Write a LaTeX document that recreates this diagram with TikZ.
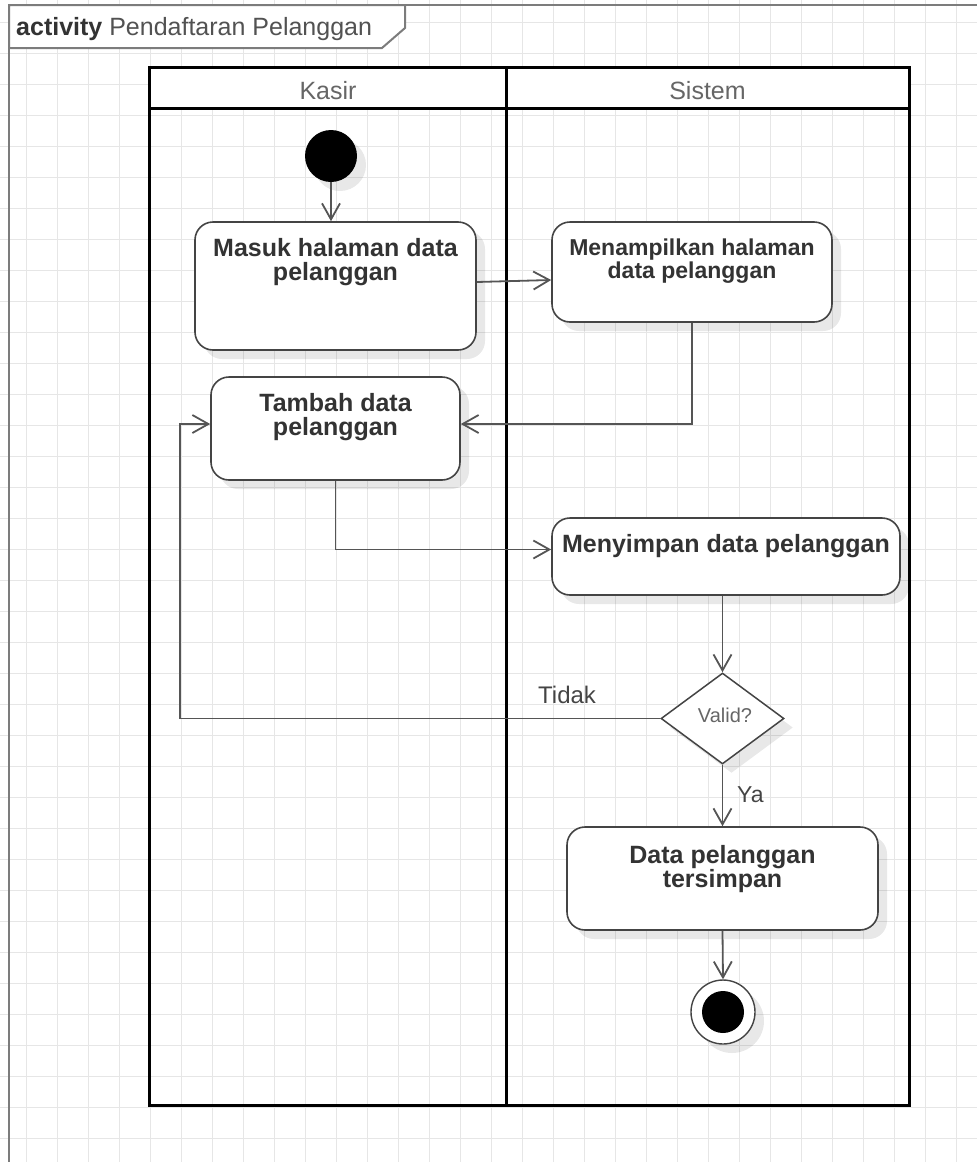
\documentclass[tikz,border=0pt]{standalone}
\usepackage{fontspec}
\setmainfont{Liberation Sans}
\usetikzlibrary{arrows.meta,shapes.geometric,shadows,calc}
\definecolor{gridc}{HTML}{E6E6E6}
\definecolor{framec}{HTML}{7C7C7C}
\definecolor{linec}{HTML}{444444}
\definecolor{flowc}{HTML}{555555}
\definecolor{txtc}{HTML}{333333}
\definecolor{softc}{HTML}{666666}

\begin{document}
\begin{tikzpicture}[x=1pt,y=-1pt,
  softshadow/.style={drop shadow={shadow xshift=9pt,shadow yshift=-9pt,fill=black,opacity=0.09}},
  act/.style={draw=linec,line width=1.6pt,fill=white,rounded corners=18pt,inner sep=0pt,softshadow},
  acttext/.style={font=\bfseries\fontsize{25}{24}\selectfont,text=txtc,align=center,anchor=north,inner sep=0pt},
  flow/.style={draw=flowc,line width=1.8pt,-{Straight Barb[length=16pt,width=18pt]}},
  lane/.style={draw=black,line width=3pt},
  flowlabel/.style={font=\fontsize{24}{24}\selectfont,text=linec,inner sep=0pt}
]
\useasboundingbox (0,0) rectangle (977,1162);
\clip (0,0) rectangle (977,1162);

% background grid
\foreach \gx in {0,...,30} {
  \draw[gridc,line width=1pt] (26+31*\gx,0) -- (26+31*\gx,1162);
}
\foreach \gy in {0,...,36} {
  \draw[gridc,line width=1pt] (0,22+31*\gy) -- (977,22+31*\gy);
}

% activity frame and its name tab
\draw[framec,line width=2pt] (9,1200) -- (9,5) -- (1000,5);
\draw[framec,line width=2pt,fill=white] (9,5) -- (405,5) -- (405,28) -- (382,48) -- (9,48) -- cycle;
\node[anchor=base west,inner sep=0pt,font=\fontsize{25}{25}\selectfont] (title) at (16,35)
  {\textcolor{txtc}{\bfseries activity} \textcolor{softc!80!black}{Pendaftaran Pelanggan}};

% swimlanes
\fill[white] (149,67) rectangle (909,108);
\draw[lane] (149,67) rectangle (909,1105);
\draw[lane] (149,108) -- (909,108);
\draw[lane] (506,67) -- (506,1105);
\node[anchor=base,inner sep=0pt,text=softc,font=\fontsize{25}{25}\selectfont] (kasir) at (328,99) {Kasir};
\node[anchor=base,inner sep=0pt,text=softc,font=\fontsize{25}{25}\selectfont] (sistem) at (707.5,99) {Sistem};

% initial node
\node[circle,fill=black,minimum size=52pt,inner sep=0pt,softshadow] (start) at (331,156) {};

% actions
\node[act,minimum width=281pt,minimum height=128pt] (masuk) at (335.5,286) {};
\node[acttext] (masukt) at (335.5,238) {Masuk halaman data\\pelanggan};

\node[act,minimum width=280pt,minimum height=100pt] (tampil) at (692,272) {};
\node[acttext,font=\bfseries\fontsize{23}{23}\selectfont] (tampilt) at (692,239) {Menampilkan halaman\\data pelanggan};

\node[act,minimum width=249pt,minimum height=103pt] (tambah) at (335.5,428.5) {};
\node[acttext] (tambaht) at (335.5,393) {Tambah data\\pelanggan};

\node[act,minimum width=348pt,minimum height=77pt] (simpan) at (726,556.5) {};
\node[acttext] (simpant) at (726,534) {Menyimpan data pelanggan};

\node[draw=linec,line width=1.5pt,fill=white,diamond,minimum width=123pt,minimum height=91pt,
      inner sep=0pt,softshadow] (valid) at (722.5,718.5) {};
\node[anchor=base,inner sep=0pt,text=softc,font=\fontsize{20}{20}\selectfont] (validt) at (725,722) {Valid?};

\node[act,minimum width=311pt,minimum height=103pt] (data) at (722.5,878.5) {};
\node[acttext] (datat) at (722.5,845) {Data pelanggan\\tersimpan};

% final node
\node[circle,draw=linec,line width=1.4pt,fill=white,minimum size=64pt,inner sep=0pt,softshadow] (final) at (723,1012) {};
\node[circle,fill=black,minimum size=42pt,inner sep=0pt] (finalcore) at (final.center) {};

% control flows
\coordinate (loop) at (180,424);
\draw[flow] (start.south) -- (start.south |- masuk.north);
\draw[flow] ([yshift=4pt]masuk.east) -- ([yshift=-8pt]tampil.west);
\draw[flow] (tampil.south) |- ([yshift=4.5pt]tambah.east);
\draw[flow] (tambah.south) |- ([yshift=7pt]simpan.west);
\draw[flow] (valid.north |- simpan.south) -- (valid.north);
\draw[flow] (valid.west) -| (loop) -- ([yshift=4.5pt]tambah.west);
\draw[flow] (valid.south) -- (valid.south |- data.north);
\draw[flow] (data.south) -- (final.north);

% guards
\node[flowlabel,anchor=base west] (tidak) at (538,703) {Tidak};
\node[flowlabel,anchor=base west,font=\fontsize{23}{23}\selectfont] (ya) at (737,802) {Ya};
\end{tikzpicture}
\end{document}
